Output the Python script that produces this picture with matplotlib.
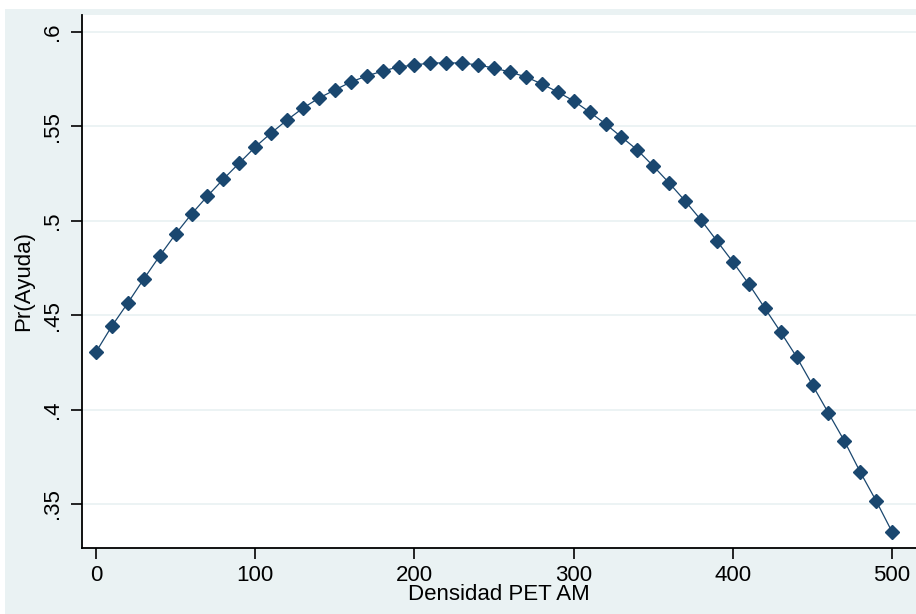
import numpy as np
import matplotlib.pyplot as plt
from matplotlib.patches import Rectangle

# Predicted probability vs. density
densidad = np.arange(0, 501, 10)
pr_ayuda = [0.4305, 0.4443, 0.4565, 0.4692, 0.4814, 0.4930, 0.5036, 0.5131,
            0.5221, 0.5306, 0.5391, 0.5465, 0.5534, 0.5597, 0.5650, 0.5693,
            0.5735, 0.5767, 0.5793, 0.5815, 0.5825, 0.5836, 0.5836, 0.5836,
            0.5825, 0.5809, 0.5788, 0.5762, 0.5725, 0.5682, 0.5635, 0.5576,
            0.5513, 0.5444, 0.5375, 0.5290, 0.5200, 0.5105, 0.5004, 0.4893,
            0.4782, 0.4665, 0.4538, 0.4411, 0.4279, 0.4130, 0.3982, 0.3834,
            0.3669, 0.3516, 0.3352]
y_ticks = [0.35, 0.4, 0.45, 0.5, 0.55, 0.6]
y_tick_labels = ['.35', '.4', '.45', '.5', '.55', '.6']
x_ticks = [0, 100, 200, 300, 400, 500]

plt.rcParams['font.family'] = ['Liberation Sans', 'DejaVu Sans']
navy = '#1a476f'
bg = '#eaf2f3'

fig = plt.figure(figsize=(9.16, 6.14), dpi=100)
fig.patch.set_facecolor('white')
# Stata-style graph region background
fig.add_artist(Rectangle((5 / 916, 0), 1, 1 - 9 / 614, transform=fig.transFigure,
                         facecolor=bg, edgecolor='none', zorder=0))

ax = fig.add_axes([82 / 916, 1 - 548 / 614, 1 - 82 / 916, (548 - 15) / 614])
ax.set_facecolor('white')

ax.plot(densidad, pr_ayuda, color=navy, linewidth=0.9, marker='D',
        markersize=7, markerfacecolor=navy, markeredgecolor=navy, zorder=3)

ax.set_xlim(-8.8, 515)
ax.set_ylim(0.3267, 0.609)
ax.set_yticks(y_ticks)
ax.set_yticklabels(y_tick_labels, rotation=90, va='center')
ax.set_xticks(x_ticks)
ax.tick_params(axis='both', labelsize=16, length=8, width=1.2, color='black')
ax.tick_params(axis='y', pad=6)
ax.tick_params(axis='x', pad=4)
ax.grid(axis='y', color=bg, linewidth=1.3)
ax.set_axisbelow(True)

for side in ['top', 'right']:
    ax.spines[side].set_visible(False)
for side in ['left', 'bottom']:
    ax.spines[side].set_linewidth(1.3)

ax.set_xlabel('Densidad PET AM', fontsize=16, labelpad=-1)
ax.set_ylabel('Pr(Ayuda)', fontsize=16, labelpad=5)

fig.savefig('out.png', dpi=100, facecolor=fig.get_facecolor())
